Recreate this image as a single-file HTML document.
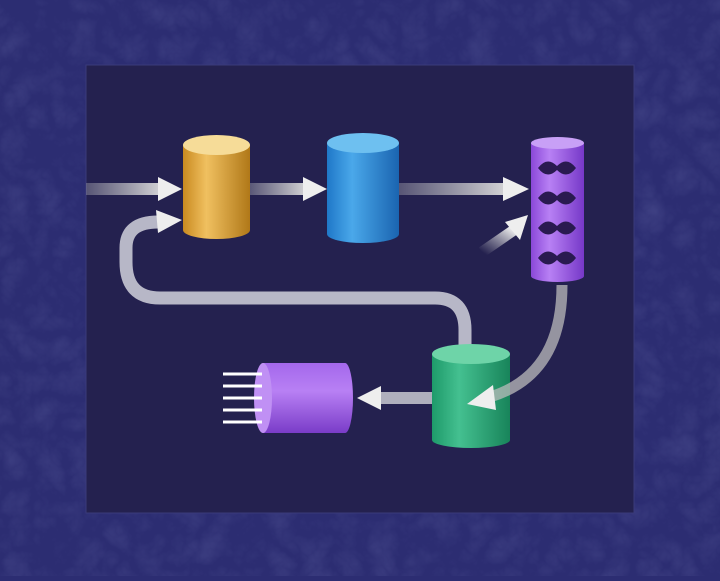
<!DOCTYPE html><html><head><style>body{margin:0;width:720px;height:576px;overflow:hidden;background:#2c2d72}</style></head><body>
<svg width="720" height="576" viewBox="0 0 720 576" xmlns="http://www.w3.org/2000/svg">
<defs>
<filter id="n"><feTurbulence baseFrequency="0.03" numOctaves="4" seed="3"/><feColorMatrix values="0 0 0 0 0.14 0 0 0 0 0.15 0 0 0 0 0.4 0 0 0 1.2 -0.2"/></filter>
<linearGradient id="gold" x1="0" x2="1"><stop offset="0" stop-color="#c98a20"/><stop offset=".35" stop-color="#f0c060"/><stop offset="1" stop-color="#b07818"/></linearGradient>
<linearGradient id="blue" x1="0" x2="1"><stop offset="0" stop-color="#1f78c8"/><stop offset=".35" stop-color="#4aa8ea"/><stop offset="1" stop-color="#1a64b0"/></linearGradient>
<linearGradient id="purp" x1="0" x2="1"><stop offset="0" stop-color="#8a48d8"/><stop offset=".35" stop-color="#b880f4"/><stop offset="1" stop-color="#7638c8"/></linearGradient>
<linearGradient id="purpv" x1="0" y1="0" x2="0" y2="1"><stop offset="0" stop-color="#a468ec"/><stop offset=".4" stop-color="#b880f4"/><stop offset="1" stop-color="#7a3cc8"/></linearGradient>
<linearGradient id="green" x1="0" x2="1"><stop offset="0" stop-color="#1e9a6a"/><stop offset=".35" stop-color="#44c090"/><stop offset="1" stop-color="#18845a"/></linearGradient>
<linearGradient id="fadeL" x1="0" x2="1"><stop offset="0" stop-color="#ccc" stop-opacity=".3"/><stop offset="1" stop-color="#ddd" stop-opacity=".95"/></linearGradient>
<linearGradient id="fadeD" x1="0" y1="1" x2="1" y2="0"><stop offset="0" stop-color="#ccc" stop-opacity="0"/><stop offset="1" stop-color="#eee"/></linearGradient>
</defs>
<rect width="720" height="576" fill="#2c2d72"/>
<rect width="720" height="576" filter="url(#n)" opacity=".3"/>
<rect x="86" y="65" width="548" height="448" fill="#24214f" stroke="#3a3a7a"/>
<rect x="86" y="183" width="75" height="12" fill="url(#fadeL)"/>
<polygon points="158,177 182,189 158,201" fill="#eee"/>
<rect x="248" y="183" width="58" height="12" fill="url(#fadeL)"/>
<polygon points="303,177 327,189 303,201" fill="#eee"/>
<rect x="398" y="183" width="108" height="12" fill="url(#fadeL)"/>
<polygon points="503,177 529,189 503,201" fill="#eee"/>
<line x1="482" y1="252" x2="514" y2="230" stroke="url(#fadeD)" stroke-width="11"/>
<polygon points="505,222 528,215 520,240" fill="#eee"/>
<path d="M465,345 L465,330 Q465,298 435,298 L160,298 Q126,298 126,262 L126,248 Q126,222 158,222" fill="none" stroke="#c8c8d4" stroke-width="13" opacity=".9"/>
<polygon points="156,210 182,220 158,233" fill="#eee"/>
<rect x="380" y="392" width="52" height="12" fill="#c8c8d0" opacity=".85"/>
<polygon points="381,386 357,398 381,410" fill="#eee"/>
<rect x="183" y="145" width="67" height="85" fill="url(#gold)"/>
<ellipse cx="216.5" cy="230" rx="33.5" ry="9" fill="url(#gold)"/>
<ellipse cx="216.5" cy="145" rx="33.5" ry="10" fill="#f6dc98"/>
<rect x="327" y="143" width="72" height="91" fill="url(#blue)"/>
<ellipse cx="363" cy="234" rx="36" ry="9" fill="url(#blue)"/>
<ellipse cx="363" cy="143" rx="36" ry="10" fill="#6ec0f0"/>
<rect x="531" y="143" width="53" height="133" fill="url(#purp)"/>
<ellipse cx="557.5" cy="276" rx="26.5" ry="6" fill="url(#purp)"/>
<ellipse cx="557.5" cy="143" rx="26.5" ry="6" fill="#c8a0f6"/>
<g fill="#2a1a50">
<path d="M538,168 q9,-12 19,-2 q10,-10 19,2 q-9,12 -19,2 q-10,10 -19,-2z"/>
<path d="M538,198 q9,-12 19,-2 q10,-10 19,2 q-9,12 -19,2 q-10,10 -19,-2z"/>
<path d="M538,228 q9,-12 19,-2 q10,-10 19,2 q-9,12 -19,2 q-10,10 -19,-2z"/>
<path d="M538,258 q9,-12 19,-2 q10,-10 19,2 q-9,12 -19,2 q-10,10 -19,-2z"/>
</g>
<rect x="432" y="354" width="78" height="86" fill="url(#green)"/>
<ellipse cx="471" cy="440" rx="39" ry="8" fill="url(#green)"/>
<ellipse cx="471" cy="354" rx="39" ry="10" fill="#6ed4a8"/>
<path d="M562,285 Q562,375 490,397" fill="none" stroke="#bbb" stroke-width="11" opacity=".75"/>
<polygon points="493,385 467,404 496,410" fill="#eee"/>
<rect x="263" y="363" width="82" height="70" fill="url(#purpv)"/>
<ellipse cx="345" cy="398" rx="8" ry="35" fill="url(#purpv)"/>
<ellipse cx="263" cy="398" rx="9" ry="35" fill="#c090f4"/>
<g stroke="#fff" stroke-width="3">
<line x1="223" y1="374" x2="262" y2="374"/><line x1="223" y1="386" x2="262" y2="386"/><line x1="223" y1="398" x2="262" y2="398"/><line x1="223" y1="410" x2="262" y2="410"/><line x1="223" y1="422" x2="262" y2="422"/>
</g>
</svg>
</body></html>
